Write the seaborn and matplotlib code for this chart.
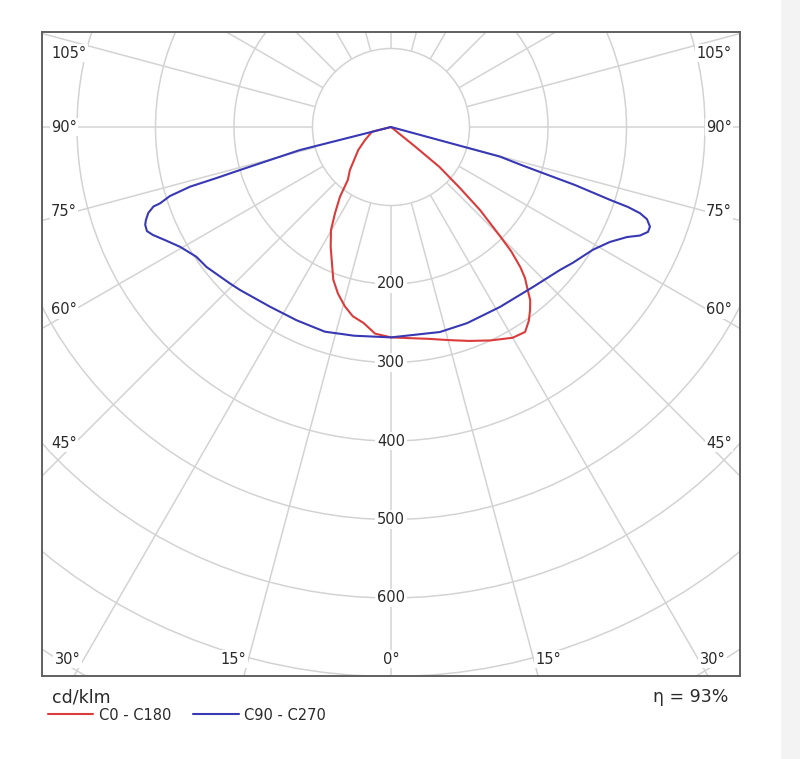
import numpy as np
import pandas as pd
import matplotlib
matplotlib.use("Agg")
import matplotlib.pyplot as plt
import seaborn as sns
from matplotlib.patches import Circle, Rectangle
from matplotlib.collections import LineCollection

# ---------------- data (cd/klm, gamma in degrees from nadir) ----------------
red_c180_gamma = [78, 76, 63.4, 54.9, 43.6, 39.2, 36.2, 33, 30.2, 26.7, 23.45, 20.7,
                  17.6, 14.4, 11.4, 8, 4.4, 0]
red_c180_value = [0, 25, 37, 51, 76, 87, 110, 131, 152, 171, 189, 208,
                  223, 236, 246, 252, 264, 268]

red_c0_gamma = [0, 5, 10, 15, 20, 25, 30, 33.2, 35.4, 37.2, 38.8, 40, 41.6, 42.7, 44.06,
                45, 47, 48.5, 50.5, 51, 52]
red_c0_value = [268, 270, 274, 281, 290, 300, 310, 312, 303, 293, 283, 271, 257, 243, 220,
                196, 155, 117, 80, 40, 0]

blue_c270_gamma = [76.5, 75.8, 74.74, 74.1, 73.7, 73.46, 72.66, 71.7, 71.5, 70.5, 69.2,
                   68.3, 66.9, 65.6, 63.43, 60.4, 56.3, 52.8, 45.8, 42.8, 34, 26, 17.9, 10, 0]
blue_c270_value = [0, 120, 160, 200, 231, 267, 295, 310, 319, 328, 334,
                   337, 338, 333, 322, 309, 298, 295, 286, 283, 276, 274, 274, 270, 268]

blue_c90_gamma = [0, 13.4, 21.2, 31.2, 41.6, 49.8, 53.2, 58.7, 62.3, 65, 66.45, 67.8,
                  68.95, 70.2, 70.9, 71.35, 71.6, 72.5, 73.2, 73.8, 74.8, 76]
blue_c90_value = [268, 268.5, 268, 268, 272.5, 282, 289, 301, 315, 331.7, 346, 353.6,
                  353.5, 346.5, 335.7, 318.6, 294, 245.7, 198, 171, 144, 0]

plane_labels = ["C0 - C180", "C90 - C270"]
ring_values = [100, 200, 300, 400, 500, 600, 700, 800]
ring_labels = [200, 300, 400, 500, 600]
left_angle_labels = ["105°", "90°", "75°", "60°", "45°"]
right_angle_labels = ["105°", "90°", "75°", "60°", "45°"]
bottom_angle_labels = ["30°", "15°", "0°", "15°", "30°"]
efficiency_text = "η = 93%"
unit_text = "cd/klm"

# ---------------- styling ----------------
sns.set_style("white")
plt.rcParams["font.family"] = ["DejaVu Sans"]

W, H = 800, 759
CX, CY = 391, 127           # pole position in pixels
PX_PER_UNIT = 0.785
FL, FR, FT, FB = 42, 740, 32, 676

GRID = "#d3d3d3"
RED = "#db3b3b"
BLUE = "#3838b4"
TEXT = "#2a2a2a"

fig = plt.figure(figsize=(W / 100, H / 100), dpi=100)
fig.add_artist(Rectangle((781 / W, 0), 19 / W, 1, transform=fig.transFigure,
                         fc="#f3f3f3", ec="none", zorder=0))
ax = fig.add_axes([FL / W, 1 - FB / H, (FR - FL) / W, (FB - FT) / H])
ax.set_xlim(-(CX - FL) / PX_PER_UNIT, (FR - CX) / PX_PER_UNIT)
ax.set_ylim(-(FB - CY) / PX_PER_UNIT, (CY - FT) / PX_PER_UNIT)

# grid circles
for r in ring_values:
    ax.add_patch(Circle((0, 0), r, fill=False, ec=GRID, lw=1.1, zorder=1))
# radial lines every 15 degrees, starting at the 100 ring
ang = np.deg2rad(np.arange(0, 360, 15))
segs = [[(100 * np.sin(a), -100 * np.cos(a)), (1200 * np.sin(a), -1200 * np.cos(a))] for a in ang]
ax.add_collection(LineCollection(segs, colors=GRID, linewidths=1.1, zorder=1))


def polar_rows(gamma, value, side, plane):
    g = np.deg2rad(np.asarray(gamma, float))
    v = np.asarray(value, float)
    return pd.DataFrame({"x": side * v * np.sin(g), "y": -v * np.cos(g), "plane": plane})


df = pd.concat([
    polar_rows(red_c180_gamma, red_c180_value, -1, plane_labels[0]),
    polar_rows(red_c0_gamma, red_c0_value, 1, plane_labels[0]),
    polar_rows(blue_c270_gamma, blue_c270_value, -1, plane_labels[1]),
    polar_rows(blue_c90_gamma, blue_c90_value, 1, plane_labels[1]),
], ignore_index=True)

sns.lineplot(data=df, x="x", y="y", hue="plane", sort=False, estimator=None,
             palette={plane_labels[0]: RED, plane_labels[1]: BLUE},
             linewidth=1.5, ax=ax, zorder=3,
             solid_joinstyle="round", solid_capstyle="round")

handles, labels = ax.get_legend_handles_labels()
if ax.get_legend() is not None:
    ax.get_legend().remove()

# ring value labels along the 0° axis
for r in ring_labels:
    ax.text(0, -r, str(r), ha="center", va="center", fontsize=10.5, color=TEXT,
            bbox=dict(fc="white", ec="none", pad=1.2), zorder=4)


def axfrac(px, py):
    return (px - FL) / (FR - FL), (FB - py) / (FB - FT)


side_y = [53, 127, 212, 310, 443]
for lab, py in zip(left_angle_labels, side_y):
    fx, fy = axfrac(51, py)
    ax.text(fx, fy, lab, transform=ax.transAxes, ha="left", va="center", fontsize=10.5,
            color=TEXT, bbox=dict(fc="white", ec="none", pad=1.0), zorder=4)
for lab, py in zip(right_angle_labels, side_y):
    fx, fy = axfrac(732, py)
    ax.text(fx, fy, lab, transform=ax.transAxes, ha="right", va="center", fontsize=10.5,
            color=TEXT, bbox=dict(fc="white", ec="none", pad=1.0), zorder=4)
for lab, px in zip(bottom_angle_labels, [67.5, 233.5, 391.5, 548, 712.5]):
    fx, fy = axfrac(px, 659)
    ax.text(fx, fy, lab, transform=ax.transAxes, ha="center", va="center", fontsize=10.5,
            color=TEXT, bbox=dict(fc="white", ec="none", pad=1.0), zorder=4)

ax.set_xticks([])
ax.set_yticks([])
ax.set_xlabel("")
ax.set_ylabel("")
for s in ax.spines.values():
    s.set_visible(True)
    s.set_color("#606060")
    s.set_linewidth(1.4)
    s.set_zorder(5)

fig.text(52 / W, 1 - 697 / H, unit_text, ha="left", va="center", fontsize=12.5, color=TEXT)
fig.text(728 / W, 1 - 697 / H, efficiency_text, ha="right", va="center", fontsize=12.5, color=TEXT)

fig.legend(handles, labels, loc="center left", bbox_to_anchor=(48 / W, 1 - 715 / H),
           ncol=2, frameon=False, fontsize=10.5, handlelength=3.1, handletextpad=0.4,
           columnspacing=1.5, borderpad=0, borderaxespad=0, labelcolor=TEXT)

fig.savefig("out.png", dpi=100)
